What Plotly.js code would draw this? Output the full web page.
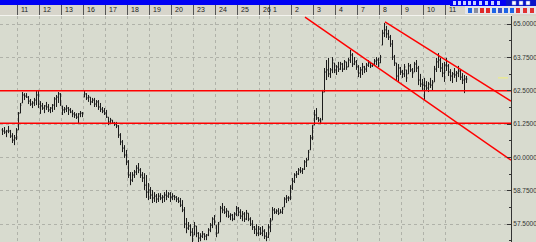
<!DOCTYPE html>
<html><head><meta charset="utf-8">
<script src="https://cdn.plot.ly/plotly-3.0.1.min.js"></script>
<style>html,body{margin:0;padding:0;background:#d8dbcf;}#c{width:536px;height:242px;}</style>
</head><body><div id="c"></div>
<script>
// Day labels of the top date strip and the bar index where each day begins
const dayLabels = ['10','11','12','13','16','17','18','19','20','23','24','25','26','1','2','3','4','7','8','9','10','11'];
const dayStart  = [-3, 8, 19, 30, 41, 52, 63, 74, 85, 96, 107, 118, 129, 134, 145, 156, 167, 178, 189, 200, 211, 222];

// Price bars
const open = [61.03,60.99,60.95,60.99,60.99,60.80,60.65,60.73,61.03,61.66,62.04,62.34,62.30,62.26,62.11,62.00,62.04,62.15,62.34,62.00,
61.93,61.85,61.93,61.89,61.78,61.85,61.96,62.19,62.26,62.38,61.93,61.78,61.81,61.85,61.78,61.70,61.63,61.59,61.51,61.63,
61.66,62.26,62.38,62.23,62.26,62.08,62.15,62.00,62.08,61.89,61.81,61.74,61.66,61.51,61.33,61.40,61.29,61.25,61.18,60.84,
60.58,60.35,60.09,59.83,59.34,59.15,59.34,59.45,59.60,59.53,59.34,59.23,58.96,58.70,58.78,58.59,58.48,58.55,58.44,58.55,
58.48,58.51,58.59,58.55,58.63,58.51,58.55,58.51,58.44,58.36,58.21,58.03,57.50,57.35,57.43,57.20,57.09,57.43,57.16,56.98,
57.05,57.13,57.05,57.09,57.28,57.46,57.69,57.46,57.16,57.58,58.10,58.03,57.95,57.99,57.80,57.84,57.69,57.88,58.10,57.95,
57.80,57.88,57.69,57.91,57.69,57.50,57.39,57.31,57.16,57.31,57.16,57.24,57.05,57.01,57.39,57.65,58.03,57.95,57.99,57.91,
57.95,58.14,58.44,58.48,58.48,58.85,59.11,59.34,59.38,59.53,59.49,59.56,59.83,59.90,60.28,60.73,61.21,61.59,61.48,61.40,
61.40,62.45,63.20,63.28,63.13,63.28,63.54,63.28,63.39,63.31,63.50,63.31,63.58,63.39,63.65,63.84,63.50,63.58,63.39,63.16,
63.28,63.39,63.31,63.46,63.54,63.43,63.50,63.61,63.65,63.54,64.21,64.66,64.78,64.63,64.51,64.25,63.76,63.54,63.05,63.35,
63.20,63.13,63.28,63.13,63.43,63.28,63.20,63.50,63.35,62.90,62.75,62.71,62.68,62.60,62.75,62.71,62.83,63.31,63.58,63.65,
63.35,63.16,63.46,63.43,63.20,63.05,63.13,63.09,63.16,63.24,63.01,62.90,62.94];
const high = [61.10,61.14,61.03,61.18,61.03,60.91,60.84,61.10,61.70,62.04,62.45,62.41,62.41,62.30,62.19,62.11,62.23,62.49,62.53,62.11,
62.04,61.96,62.08,62.00,61.89,62.00,62.26,62.34,62.45,62.41,61.93,61.89,61.96,61.89,61.85,61.78,61.70,61.66,61.66,61.74,
61.70,62.49,62.41,62.34,62.26,62.23,62.23,62.15,62.15,62.04,61.89,61.85,61.78,61.51,61.48,61.40,61.33,61.33,61.21,60.91,
60.65,60.46,60.28,59.90,59.45,59.45,59.53,59.71,59.79,59.60,59.45,59.41,59.34,59.04,58.89,58.78,58.70,58.63,58.66,58.66,
58.59,58.70,58.78,58.70,58.70,58.66,58.59,58.55,58.51,58.48,58.40,58.14,57.73,57.58,57.50,57.35,57.58,57.43,57.20,57.16,
57.24,57.16,57.13,57.35,57.54,57.76,57.84,57.46,57.58,58.18,58.29,58.18,58.10,57.99,57.91,57.88,57.95,58.18,58.14,58.06,
57.99,57.95,58.03,57.91,57.76,57.65,57.43,57.50,57.43,57.39,57.43,57.31,57.20,57.50,57.73,58.14,58.10,58.06,58.10,58.06,
58.14,58.51,58.59,58.55,58.96,59.23,59.41,59.49,59.60,59.64,59.60,59.90,59.98,60.28,60.84,61.21,61.78,61.85,61.51,61.48,
62.53,63.35,63.65,63.73,63.35,63.76,63.54,63.46,63.58,63.58,63.54,63.65,63.58,63.73,64.03,63.91,63.76,63.65,63.46,63.39,
63.54,63.43,63.54,63.65,63.58,63.54,63.69,63.76,63.73,63.84,64.78,65.04,64.93,64.78,64.59,64.40,63.84,63.54,63.50,63.39,
63.28,63.50,63.28,63.54,63.50,63.35,63.58,63.65,63.43,63.13,62.94,62.98,62.86,62.83,62.98,62.90,63.43,63.73,63.91,63.73,
63.54,63.58,63.73,63.50,63.31,63.20,63.35,63.24,63.43,63.28,63.16,63.09,63.05];
const low = [60.84,60.88,60.76,60.91,60.73,60.54,60.46,60.65,61.03,61.66,62.04,62.15,62.23,62.00,61.93,61.85,61.93,61.96,61.85,61.63,
61.78,61.66,61.78,61.70,61.66,61.70,61.78,61.89,62.04,61.93,61.59,61.66,61.70,61.59,61.66,61.51,61.48,61.44,61.29,61.51,
61.51,62.26,62.15,62.08,61.96,62.04,61.89,61.89,61.78,61.70,61.66,61.59,61.48,61.21,61.29,61.25,61.18,61.10,60.73,60.46,
60.20,59.98,59.71,59.23,58.96,59.08,59.23,59.34,59.41,59.23,59.08,58.78,58.48,58.40,58.44,58.29,58.33,58.29,58.33,58.40,
58.29,58.33,58.40,58.48,58.33,58.40,58.40,58.33,58.29,58.14,57.95,57.35,57.16,57.28,57.05,56.83,57.09,57.01,56.83,56.86,
56.98,56.90,56.90,57.05,57.20,57.35,57.46,57.01,57.16,57.58,57.91,57.88,57.76,57.73,57.65,57.61,57.65,57.80,57.80,57.69,
57.61,57.58,57.65,57.61,57.43,57.28,57.13,57.05,57.05,57.09,57.05,56.94,56.86,56.98,57.20,57.65,57.88,57.88,57.84,57.91,
57.88,58.14,58.29,58.36,58.40,58.78,59.04,59.23,59.34,59.41,59.38,59.53,59.64,59.90,60.28,60.65,61.21,61.40,61.33,61.25,
61.40,62.45,62.90,63.01,62.98,63.16,63.16,63.09,63.20,63.28,63.20,63.28,63.28,63.39,63.54,63.39,63.46,63.28,63.01,62.98,
63.09,63.16,63.20,63.39,63.35,63.39,63.43,63.46,63.39,63.54,64.21,64.51,64.48,64.40,64.14,63.65,63.43,62.90,62.83,63.09,
62.98,63.01,62.83,63.13,63.20,62.98,63.20,63.20,62.71,62.64,62.53,62.15,62.49,62.45,62.60,62.49,62.83,63.20,63.35,63.20,
63.01,62.83,63.24,63.05,62.86,62.79,62.98,62.83,63.01,62.90,62.75,62.41,62.79];
const close = [60.99,60.95,60.99,60.99,60.80,60.65,60.73,61.03,61.66,61.96,62.34,62.30,62.26,62.11,62.00,62.04,62.15,62.34,62.00,61.93,
61.85,61.93,61.89,61.78,61.85,61.96,62.19,62.26,62.38,62.00,61.78,61.81,61.85,61.78,61.70,61.63,61.59,61.51,61.63,61.66,
61.66,62.38,62.23,62.26,62.08,62.15,62.00,62.08,61.89,61.81,61.74,61.66,61.51,61.33,61.40,61.29,61.25,61.18,60.84,60.58,
60.35,60.09,59.83,59.34,59.15,59.34,59.45,59.60,59.53,59.34,59.23,58.96,58.70,58.78,58.59,58.48,58.55,58.44,58.55,58.48,
58.51,58.59,58.55,58.63,58.51,58.55,58.51,58.44,58.36,58.21,58.03,57.50,57.35,57.43,57.20,57.05,57.43,57.16,56.98,57.05,
57.13,57.05,57.09,57.28,57.46,57.69,57.58,57.16,57.50,58.10,58.03,57.95,57.99,57.80,57.84,57.69,57.88,58.10,57.95,57.80,
57.88,57.69,57.91,57.69,57.50,57.39,57.31,57.16,57.31,57.16,57.24,57.05,57.01,57.39,57.61,58.03,57.95,57.99,57.91,57.95,
58.06,58.44,58.48,58.48,58.85,59.11,59.34,59.38,59.53,59.49,59.56,59.83,59.90,60.20,60.73,61.10,61.59,61.48,61.40,61.33,
62.45,63.20,63.28,63.13,63.28,63.65,63.28,63.39,63.31,63.50,63.31,63.58,63.39,63.65,63.84,63.50,63.58,63.39,63.16,63.28,
63.39,63.31,63.46,63.54,63.43,63.50,63.61,63.65,63.54,63.76,64.66,64.78,64.63,64.51,64.25,63.76,63.54,63.05,63.35,63.20,
63.13,63.39,62.98,63.43,63.28,63.16,63.50,63.35,62.90,62.75,62.71,62.68,62.60,62.75,62.71,62.79,63.31,63.58,63.65,63.35,
63.16,63.46,63.43,63.20,63.05,63.13,63.09,63.16,63.24,63.01,62.90,62.94,62.94];
const barIndex = close.map((_, i) => i);

// Drawn studies: horizontal levels and the falling channel
const levelPrices = [62.50, 61.28];
const levelSpan = [-1.25, 254.25];
const channelUpperX = [191.25, 254.25], channelUpperY = [65.08, 62.11];
const channelLowerX = [151.25, 254.25], channelLowerY = [65.26, 59.90];
const lastPriceMarkX = [247.75, 252.75], lastPriceMarkY = [62.98, 62.98];

// Price axis labels
const priceTicks = [57.5, 58.75, 60.0, 61.25, 62.5, 63.75, 65.0];
const minorTicks = [56.875, 58.125, 59.375, 60.625, 61.875, 63.125, 64.375];

const red = '#ff0000';
const traces = [
  {type:'ohlc', x:barIndex, open:open, high:high, low:low, close:close,
   increasing:{line:{color:'#1c1c1c', width:1}}, decreasing:{line:{color:'#1c1c1c', width:1}},
   tickwidth:0.45, hoverinfo:'skip', showlegend:false},
  ...levelPrices.map(p => ({type:'scatter', mode:'lines', x:levelSpan, y:[p,p], line:{color:red, width:1.5}, hoverinfo:'skip', showlegend:false})),
  {type:'scatter', mode:'lines', x:channelUpperX, y:channelUpperY, line:{color:red, width:1.5}, hoverinfo:'skip', showlegend:false},
  {type:'scatter', mode:'lines', x:channelLowerX, y:channelLowerY, line:{color:red, width:1.5}, hoverinfo:'skip', showlegend:false},
  {type:'scatter', mode:'lines', x:lastPriceMarkX, y:lastPriceMarkY, line:{color:'#f2f07a', width:1}, hoverinfo:'skip', showlegend:false, cliponaxis:false}
];

const W = 511, H = 226;
const px = v => v / W;                 // paper x from pixel
const py = v => 1 + (16 - v) / H;      // paper y from pixel
const shapes = [
  {type:'rect', xref:'paper', yref:'paper', x0:-0.01, x1:1.06, y0:1, y1:py(5), fillcolor:'#d7d5cb', line:{width:0}, layer:'below'},
  {type:'rect', xref:'paper', yref:'paper', x0:-0.01, x1:1.06, y0:py(5), y1:py(-2), fillcolor:'#0000f4', line:{width:0}, layer:'below'},
  {type:'rect', xref:'paper', yref:'paper', x0:px(450), x1:px(506), y0:py(6), y1:py(-2), fillcolor:'#0000f4', line:{width:0}, layer:'below'},
  {type:'rect', xref:'paper', yref:'paper', x0:px(506), x1:px(537), y0:py(6), y1:py(-2), fillcolor:'#0a14c8', line:{width:0}, layer:'below'},
  {type:'rect', xref:'paper', yref:'paper', x0:px(465), x1:px(537), y0:py(14), y1:py(6), fillcolor:'#e4e4ea', line:{width:0}, layer:'below'}
];
const whiteIcons = [453,458,463,468,473,479,485,491,497];
whiteIcons.forEach(x => shapes.push({type:'rect', xref:'paper', yref:'paper', x0:px(x), x1:px(x+3), y0:py(5), y1:py(1), fillcolor:'#c8d2ff', line:{width:0}}));
[512,519,526].forEach(x => shapes.push({type:'rect', xref:'paper', yref:'paper', x0:px(x), x1:px(x+4), y0:py(5), y1:py(1), fillcolor:'#ffffff', line:{color:'#6070d0', width:0.5}}));
const row2 = [[468,'#1d63e6'],[474,'#8a8fa0'],[480,'#e02a2a'],[486,'#e02a2a'],[492,'#1d63e6'],[498,'#3a55c8'],[504,'#1d63e6'],[510,'#1d63e6'],[516,'#e03030'],[523,'#e03030'],[530,'#e03030']];
row2.forEach(([x,c]) => shapes.push({type:'rect', xref:'paper', yref:'paper', x0:px(x), x1:px(x+4), y0:py(13), y1:py(8), fillcolor:c, line:{width:0}}));

const annotations = dayLabels.map((t, i) => ({
  text:t, x:dayStart[i] - 0.5, xref:'x', y:1, yref:'paper', xanchor:'left', yanchor:'bottom',
  xshift:1, yshift:1, showarrow:false, font:{size:7, color:'#222', family:'Liberation Sans, Arial'}
}));

const layout = {
  width:536, height:242, margin:{l:0, r:25, t:16, b:0},
  paper_bgcolor:'#d8dbcf', plot_bgcolor:'#d8dbcf', showlegend:false,
  xaxis:{range:[-1.25, 254.25], side:'top', tickmode:'array', tickvals:dayStart.map(d => d - 0.5),
    ticks:'outside', ticklen:10, tickcolor:'#555', tickwidth:1, showticklabels:false,
    showgrid:true, gridcolor:'#b0b2a9', griddash:'dot', gridwidth:1, zeroline:false,
    showline:true, linecolor:'#f3f3ee', linewidth:1, rangeslider:{visible:false}, fixedrange:true},
  yaxis:{range:[56.83, 65.30], side:'right', tickmode:'array', tickvals:priceTicks,
    ticktext:priceTicks.map(v => v.toFixed(4)), ticks:'inside', ticklen:4, tickcolor:'#333',
    showline:true, linecolor:'#333', linewidth:1, showgrid:true, gridcolor:'#b0b2a9', griddash:'dot',
    zeroline:false, tickfont:{size:6.5, color:'#333', family:'Liberation Sans, Arial'},
    minor:{tickmode:'array', tickvals:minorTicks, ticks:'inside', ticklen:2, tickcolor:'#333', showgrid:false},
    fixedrange:true},
  shapes:shapes, annotations:annotations
};
Plotly.newPlot('c', traces, layout, {displayModeBar:false, staticPlot:true});
</script></body></html>
